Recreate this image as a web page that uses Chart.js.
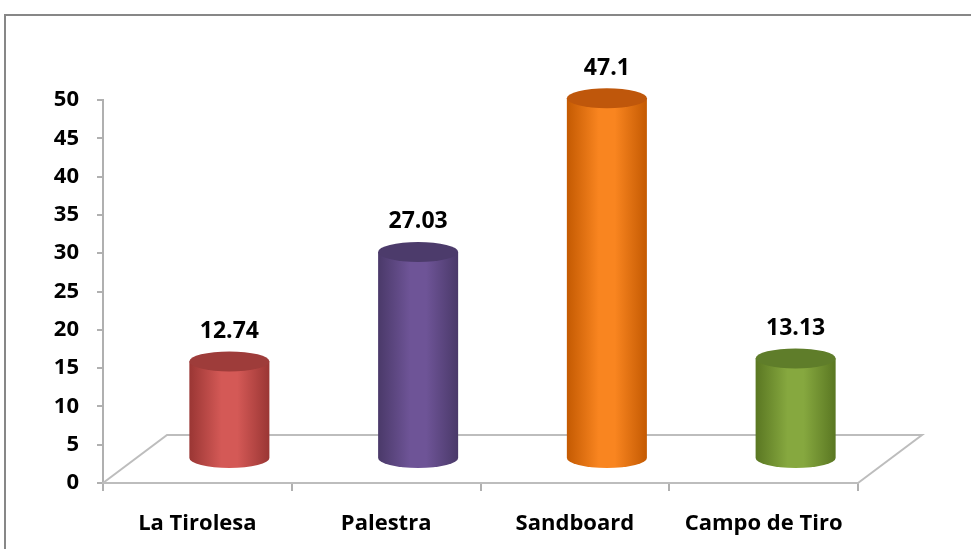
<!DOCTYPE html>
<html>
<head>
<meta charset="utf-8">
<script src="https://cdn.jsdelivr.net/npm/chart.js@4"></script>
<style>
  html, body { margin: 0; padding: 0; background: #fff; }
  #wrap { position: relative; width: 971px; height: 549px; }
</style>
</head>
<body>
<div id="wrap"><canvas id="chart" width="971" height="549"></canvas></div>
<script>
const categories = ["La Tirolesa", "Palestra", "Sandboard", "Campo de Tiro"];
const values = [12.74, 27.03, 47.1, 13.13];
const valueLabels = ["12.74", "27.03", "47.1", "13.13"];
const yMin = 0, yMax = 50, yStep = 5;

// cylinder colours: [edge, middle, top]
const cylColors = [
  ["#9a3634", "#d45956", "#9e3c3a"],
  ["#4a3969", "#6e5497", "#4c3b6b"],
  ["#c45a02", "#f98520", "#bf570b"],
  ["#5a7722", "#86a83f", "#5f7d2a"]
];

const DEPTH_X = 64, DEPTH_Y = -48;
const FONT = "'Open Sans', 'DejaVu Sans', sans-serif";

const frame = {
  id: "frame",
  beforeDraw(chart) {
    const ctx = chart.ctx;
    ctx.save();
    ctx.fillStyle = "#fff";
    ctx.fillRect(0, 0, chart.width, chart.height);
    ctx.strokeStyle = "#878787";
    ctx.lineWidth = 2;
    ctx.strokeRect(5, 15, 1000, 1000);
    ctx.restore();
  }
};

const floor = {
  id: "floor",
  beforeDatasetsDraw(chart) {
    const { ctx, chartArea } = chart;
    const y0 = chart.scales.y.getPixelForValue(0);
    const l = chartArea.left, r = chartArea.right;
    ctx.save();
    ctx.strokeStyle = "#bdbdbd";
    ctx.lineWidth = 2;
    ctx.beginPath();
    ctx.moveTo(l, y0);
    ctx.lineTo(l + DEPTH_X, y0 + DEPTH_Y);
    ctx.lineTo(r + DEPTH_X, y0 + DEPTH_Y);
    ctx.lineTo(r, y0);
    ctx.stroke();
    ctx.restore();
  }
};

const cylinders = {
  id: "cylinders",
  afterDatasetsDraw(chart) {
    const ctx = chart.ctx;
    const meta = chart.getDatasetMeta(0);
    const ry = 10;
    meta.data.forEach((bar, i) => {
      const cx = bar.x + DEPTH_X / 2;
      const top = bar.y + DEPTH_Y / 2;
      const bottom = bar.base + DEPTH_Y / 2;
      const rx = bar.width / 2;
      const [edge, mid, topCol] = cylColors[i];

      ctx.save();
      const g = ctx.createLinearGradient(cx - rx, 0, cx + rx, 0);
      g.addColorStop(0, edge);
      g.addColorStop(0.4, mid);
      g.addColorStop(0.6, mid);
      g.addColorStop(1, edge);
      ctx.fillStyle = g;
      ctx.beginPath();
      ctx.moveTo(cx - rx, top);
      ctx.lineTo(cx - rx, bottom);
      ctx.ellipse(cx, bottom, rx, ry, 0, Math.PI, 0, true);
      ctx.lineTo(cx + rx, top);
      ctx.closePath();
      ctx.fill();

      ctx.fillStyle = topCol;
      ctx.beginPath();
      ctx.ellipse(cx, top, rx, ry, 0, 0, Math.PI * 2);
      ctx.fill();

      ctx.fillStyle = "#000";
      ctx.font = "bold 23px " + FONT;
      ctx.textAlign = "center";
      ctx.textBaseline = "middle";
      ctx.fillText(valueLabels[i], cx, top - ry - 20);
      ctx.restore();
    });
  }
};

new Chart(document.getElementById("chart"), {
  type: "bar",
  data: {
    labels: categories,
    datasets: [{
      data: values,
      backgroundColor: "rgba(0,0,0,0)",
      borderWidth: 0,
      categoryPercentage: 1,
      barPercentage: 0.424
    }]
  },
  options: {
    responsive: false,
    animation: false,
    layout: { padding: { top: 100, right: 113, bottom: 0, left: 0 } },
    plugins: { legend: { display: false }, tooltip: { enabled: false } },
    scales: {
      y: {
        min: yMin,
        max: yMax,
        ticks: {
          stepSize: yStep,
          color: "#000",
          padding: 18,
          font: { family: FONT, weight: "bold", size: 22 }
        },
        grid: { drawOnChartArea: false, tickLength: 6, color: "#b0b0b0", lineWidth: 2 },
        border: { color: "#b0b0b0", width: 2 },
        afterFit(scale) { scale.width = 103; }
      },
      x: {
        ticks: {
          color: "#000",
          padding: 20,
          font: { family: FONT, weight: "bold", size: 22 }
        },
        grid: { drawOnChartArea: false, tickLength: 8, color: "#b0b0b0", lineWidth: 2 },
        border: { color: "#bdbdbd", width: 2 },
        afterFit(scale) { scale.height = 66; }
      }
    }
  },
  plugins: [frame, floor, cylinders]
});
</script>
</body>
</html>
